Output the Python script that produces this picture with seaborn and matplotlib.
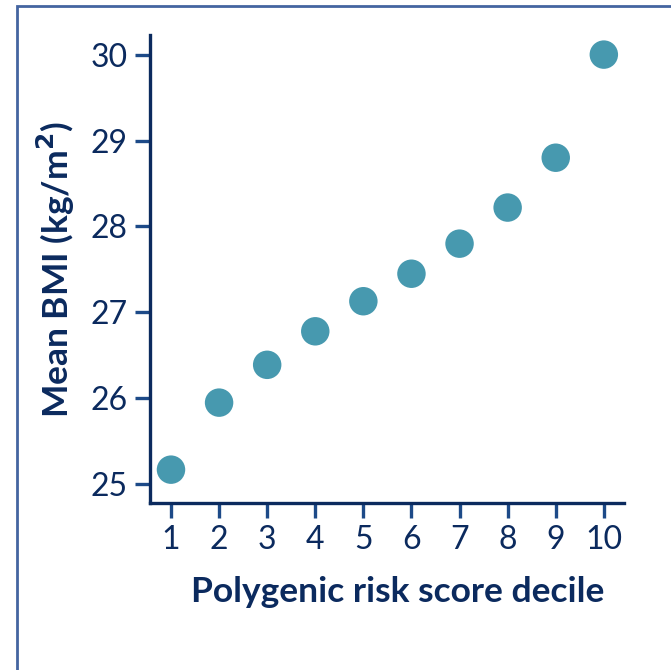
import matplotlib
matplotlib.use("Agg")
import matplotlib.pyplot as plt
import seaborn as sns
import pandas as pd
from matplotlib.patches import Rectangle

# Mean BMI by polygenic risk score decile
deciles = [1, 2, 3, 4, 5, 6, 7, 8, 9, 10]
mean_bmi = [25.17, 25.95, 26.39, 26.78, 27.13, 27.45, 27.80, 28.22, 28.80, 30.00]
y_ticks = [25, 26, 27, 28, 29, 30]

df = pd.DataFrame({"decile": deciles, "bmi": mean_bmi})

sns.set_theme(style="white")
plt.rcParams["font.family"] = ["Lato", "DejaVu Sans"]

navy = "#0B2A5E"
tick_blue = "#1D4A88"
dot = "#4799AF"

fig = plt.figure(figsize=(6.71, 6.70), dpi=100)
ax = fig.add_axes([0.2235, 0.249, 0.7065, 0.699])

sns.scatterplot(data=df, x="decile", y="bmi", ax=ax, s=420, color=dot,
                edgecolor="none", linewidth=0, legend=False, clip_on=False, zorder=3)

ax.set_xlim(0.563, 10.42)
ax.set_ylim(24.78, 30.23)
ax.set_xticks(deciles)
ax.set_xticklabels([str(d) for d in deciles])
ax.set_yticks(y_ticks)
ax.set_yticklabels([str(t) for t in y_ticks])

for side in ("top", "right"):
    ax.spines[side].set_visible(False)
for side in ("left", "bottom"):
    ax.spines[side].set_color(navy)
    ax.spines[side].set_linewidth(2.4)

ax.tick_params(axis="both", which="major", bottom=True, left=True,
               direction="out", length=11, width=2.4,
               color=tick_blue, labelcolor=navy, labelsize=23, pad=5)
ax.tick_params(axis="x", pad=5)

ax.set_xlabel("Polygenic risk score decile", fontsize=25.5, fontweight="bold",
              color=navy, labelpad=15)
ax.xaxis.label.set_x(0.523)
ax.set_ylabel("Mean BMI (kg/m$^\\mathbf{2}$)", fontsize=25.5, fontweight="bold",
              color=navy, labelpad=10)

# outer frame around the panel
fig.patches.append(Rectangle((17 / 671, -0.05), 1.2, 1 - 6 / 670 + 0.05,
                             transform=fig.transFigure, fill=False,
                             edgecolor="#4465A0", linewidth=2.0))

fig.savefig("out.png", dpi=100)
